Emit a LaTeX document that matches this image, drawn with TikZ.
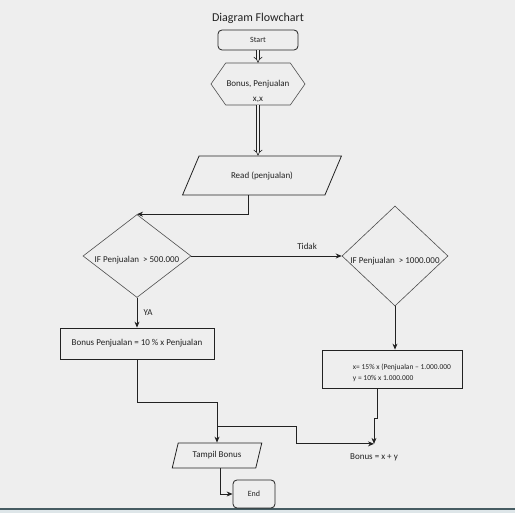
\documentclass[tikz,border=0pt]{standalone}
\usepackage{fontspec}
\setmainfont{Carlito}
\usetikzlibrary{shapes.geometric, shapes.symbols, arrows.meta, positioning, calc}
\definecolor{paper}{RGB}{238,238,238}
\definecolor{ink}{RGB}{34,34,34}
\definecolor{frame}{RGB}{70,92,98}
\definecolor{strip}{RGB}{222,230,233}

\begin{document}
\begin{tikzpicture}[
    x=1pt, y=-1pt,
    every node/.style={text=ink, font=\fontsize{9}{10}\selectfont},
    term/.style={rectangle, rounded corners=4pt, draw=ink, line width=0.8pt, inner sep=0pt},
    prep/.style={signal, signal to=east and west, signal pointer angle=110, draw=ink!80, line width=0.6pt, minimum width=94pt, minimum height=42pt, inner sep=0pt, align=center},
    io/.style={trapezium, trapezium stretches=true, draw=ink, line width=0.8pt, inner sep=0pt},
    decision/.style={diamond, draw=ink!80, line width=0.6pt, inner sep=0pt},
    process/.style={rectangle, draw=ink, line width=0.8pt, inner sep=0pt},
    arrow/.style={->, >={Stealth[length=6pt, width=5pt]}, line width=0.8pt, draw=ink},
    dblarrow/.style={double=paper, double distance=2.5pt, line width=0.6pt, -{Implies}, draw=ink}
]
    % Background
    \fill[paper] (0,0) rectangle (515,513);
    \useasboundingbox (0,0) rectangle (515,513);
    \fill[strip] (0,509) rectangle (515,513);
    \draw[frame, line width=1.2pt] (0,509) -- (515,509);

    % Nodes
    \node[font=\fontsize{12}{14}\selectfont] (title) at (258,18) {Diagram Flowchart};
    \node[term, minimum width=80pt, minimum height=20pt, font=\fontsize{8}{9}\selectfont] (start) at (258,40) {Start};
    \node[prep, label={[yshift=-7pt, align=center]center:Bonus, Penjualan\\[5pt]x,x}] (init) at (258,84) {};
    \node[io, trapezium left angle=45, trapezium right angle=135, minimum width=160pt, minimum height=39pt] (read) at (262,175.5) {Read (penjualan)};
    \node[decision, minimum width=108pt, minimum height=83pt, label={[yshift=-4pt]center:IF Penjualan~~> 500.000}] (cek1) at (137,256) {};
    \node[decision, minimum width=106pt, minimum height=100pt, label={[yshift=-5pt]center:IF Penjualan~~> 1000.000}] (cek2) at (395,256) {};
    \node[process, minimum width=154pt, minimum height=31pt] (hitung1) at (137,343.5) {Bonus Penjualan = 10 \% x Penjualan};
    \node[process, minimum width=140pt, minimum height=38pt, label={[xshift=10pt, yshift=-4pt, align=left, font=\fontsize{7.5}{11}\selectfont]center:x= 15\% x (Penjualan -- 1.000.000\\y = 10\% x 1.000.000}] (hitung2) at (392,369) {};
    \node (jumlah) at (374,457) {Bonus = x + y};
    \node[io, trapezium left angle=64, trapezium right angle=116, minimum width=90pt, minimum height=25pt] (tampil) at (217,455.5) {Tampil Bonus};
    \node[term, minimum width=42pt, minimum height=28pt, font=\fontsize{8}{9}\selectfont] (end) at (254,494) {End};

    \coordinate (cabang) at ($(tampil.north)+(0,-16)$);
    \coordinate (masuk) at ([yshift=6pt]jumlah.north);

    % Arrows
    \draw[dblarrow] (start.south) -- (init.north);
    \draw[dblarrow] (init.south) -- (init.south |- read.north);
    \draw[arrow] ([xshift=-14pt]read.south) |- (cek1.north);
    \draw[arrow] (cek1.east) -- (cek1.east -| cek2.west) node[pos=0.77, above=3pt] {Tidak};
    \draw[arrow] (cek1.south) -- (hitung1.north) node[midway, right=3pt] {YA};
    \draw[arrow] (cek2.south) -- (cek2.south |- hitung2.north);
    \draw[arrow] (hitung1.south) -- ++(0,43) -| (tampil.north);
    \draw[arrow] (cabang) -- ++(79,0) |- (masuk);
    \draw[arrow] ([xshift=-15pt]hitung2.south) -- ++(0,30) -| (masuk);
    \draw[arrow] ([xshift=3pt]tampil.south) |- (end.west);
\end{tikzpicture}
\end{document}
